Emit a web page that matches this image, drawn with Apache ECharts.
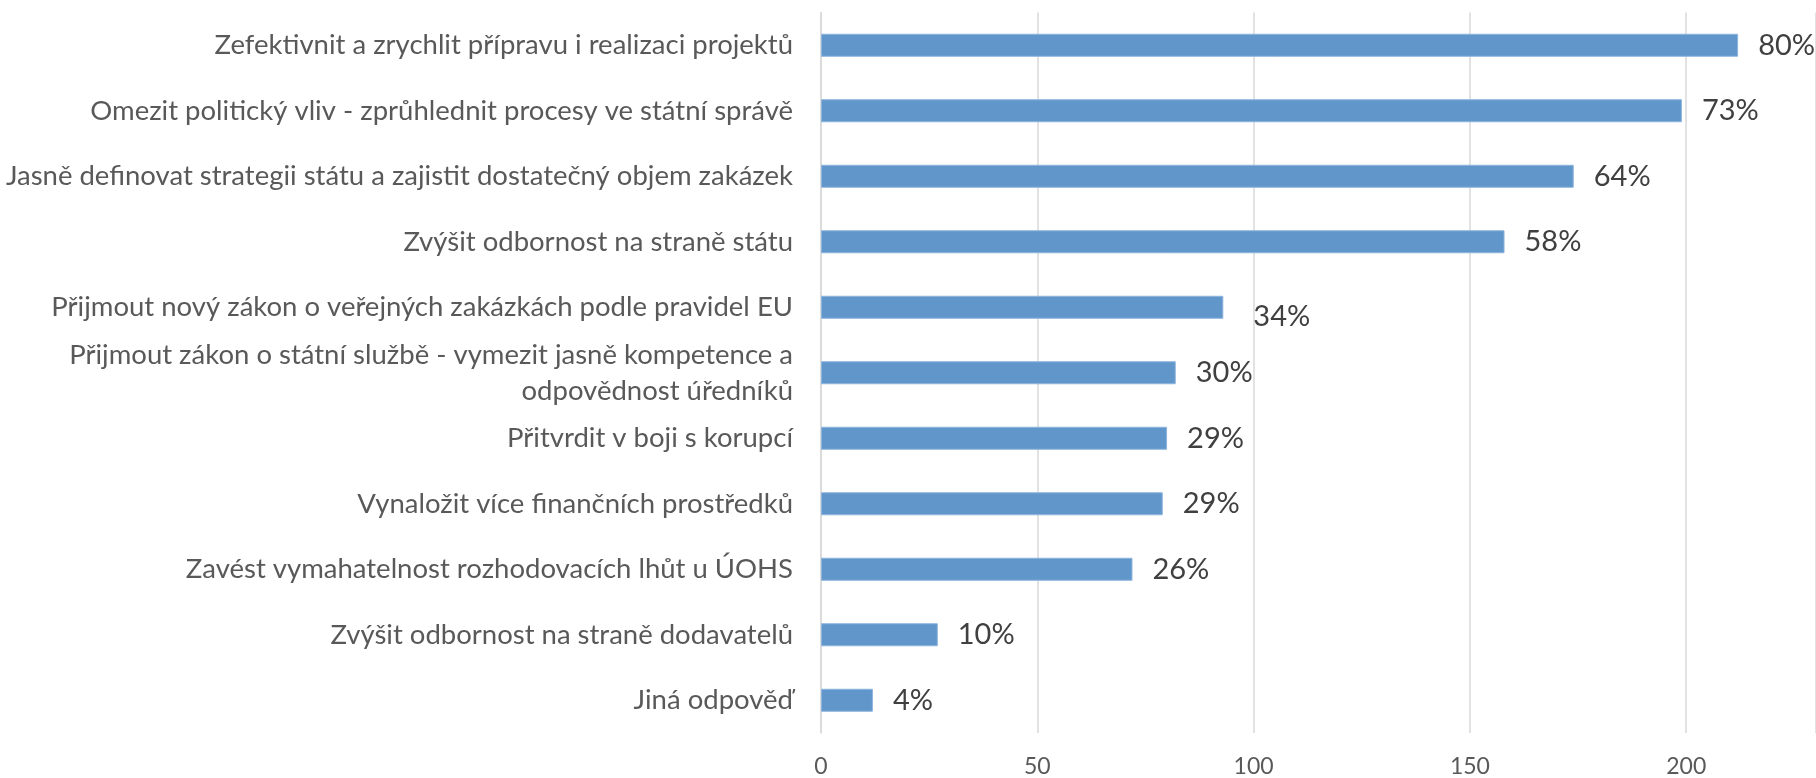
<!DOCTYPE html>
<html>
<head>
<meta charset="utf-8">
<script src="https://cdn.jsdelivr.net/npm/echarts@6/dist/echarts.min.js"></script>
<style>
html,body{margin:0;padding:0;background:#fff;}
#chart{width:1816px;height:778px;}
</style>
</head>
<body>
<div id="chart"></div>
<script>
const categories = [
  "Zefektivnit a zrychlit přípravu i realizaci projektů",
  "Omezit politický vliv - zprůhlednit procesy ve státní správě",
  "Jasně definovat strategii státu a zajistit dostatečný objem zakázek",
  "Zvýšit odbornost na straně státu",
  "Přijmout nový zákon o veřejných zakázkách podle pravidel EU",
  "Přijmout zákon o státní službě - vymezit jasně kompetence a\nodpovědnost úředníků",
  "Přitvrdit v boji s korupcí",
  "Vynaložit více finančních prostředků",
  "Zavést vymahatelnost rozhodovacích lhůt u ÚOHS",
  "Zvýšit odbornost na straně dodavatelů",
  "Jiná odpověď"
];
const values = [212, 199, 174, 158, 93, 82, 80, 79, 72, 27, 12];
const percentLabels = ["80%", "73%", "64%", "58%", "34%", "30%", "29%", "29%", "26%", "10%", "4%"];
const xTicks = [0, 50, 100, 150, 200];

const chart = echarts.init(document.getElementById('chart'));
const seriesData = values.map((v, i) => {
  const item = { value: v };
  if (i === 4) item.label = { offset: [10, 9] };
  return item;
});
chart.setOption({
  animation: false,
  grid: { left: 821, right: 0, top: 12.5, bottom: 39.5, containLabel: false },
  xAxis: {
    type: 'value', min: 0, max: 230, interval: 50,
    axisLine: { show: false }, axisTick: { show: false },
    splitLine: { show: true, lineStyle: { color: '#D9D9D9', width: 1.5 } },
    axisLabel: {
      color: '#595959', fontFamily: 'Lato', fontSize: 23, margin: 22,
      showMaxLabel: false,
      formatter: v => xTicks.indexOf(v) >= 0 ? String(v) : ''
    }
  },
  yAxis: {
    type: 'category', inverse: true, data: categories,
    axisLine: { show: true, lineStyle: { color: '#D9D9D9', width: 1.5 } },
    axisTick: { show: false },
    axisLabel: {
      color: '#595959', fontFamily: 'Lato', fontSize: 27.5, margin: 28,
      align: 'right', lineHeight: 36
    }
  },
  series: [{
    type: 'bar', data: seriesData, barWidth: 23,
    itemStyle: { color: '#6096C9', borderColor: '#8DB4DE', borderWidth: 1 },
    label: {
      show: true, position: 'right', distance: 20,
      color: '#404040', fontFamily: 'Lato', fontSize: 29,
      formatter: p => percentLabels[p.dataIndex]
    }
  }]
});
</script>
</body>
</html>
